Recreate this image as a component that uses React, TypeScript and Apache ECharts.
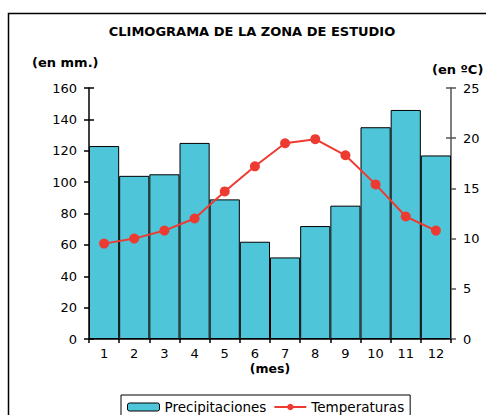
import React, { useEffect, useRef } from "react";
import * as echarts from "echarts";

const months = ["1", "2", "3", "4", "5", "6", "7", "8", "9", "10", "11", "12"];
const precipitaciones = [123, 104, 105, 125, 89, 62, 52, 72, 85, 135, 146, 117];
const temperaturas = [9.5, 10, 10.8, 12, 14.7, 17.2, 19.5, 19.9, 18.3, 15.4, 12.2, 10.8];

const FONT = "DejaVu Sans";

export default function App() {
  const ref = useRef<HTMLDivElement>(null);
  useEffect(() => {
    document.body.style.margin = "0";
    const chart = echarts.init(ref.current!, null, { renderer: "svg" });
    const leftBase = {
      type: "value" as const,
      min: 0,
      max: 160,
      interval: 20,
      position: "left" as const,
      splitLine: { show: false },
    };
    const rightBase = {
      type: "value" as const,
      min: 0,
      max: 25,
      interval: 5,
      position: "right" as const,
      splitLine: { show: false },
    };
    chart.setOption({
      animation: false,
      backgroundColor: "#fff",
      textStyle: { fontFamily: FONT },
      grid: { left: 89, right: 35, top: 88, bottom: 76, containLabel: false },
      graphic: [
        {
          type: "rect",
          shape: { x: 8.5, y: 13.5, width: 600, height: 600 },
          style: { fill: "none", stroke: "#000", lineWidth: 1.5 },
          z: 0,
        },
        {
          type: "text",
          x: 252,
          y: 31,
          style: {
            text: "CLIMOGRAMA DE LA ZONA DE ESTUDIO",
            font: `bold 13px "${FONT}"`,
            fill: "#000",
            textAlign: "center",
            textVerticalAlign: "middle",
          },
        },
        {
          type: "text",
          x: 32,
          y: 62,
          style: {
            text: "(en mm.)",
            font: `bold 13px "${FONT}"`,
            fill: "#000",
            textAlign: "left",
            textVerticalAlign: "middle",
          },
        },
        {
          type: "text",
          x: 432,
          y: 69,
          style: {
            text: "(en ºC)",
            font: `bold 13px "${FONT}"`,
            fill: "#000",
            textAlign: "left",
            textVerticalAlign: "middle",
          },
        },
        {
          type: "text",
          x: 270,
          y: 368,
          style: {
            text: "(mes)",
            font: `bold 12.5px "${FONT}"`,
            fill: "#000",
            textAlign: "center",
            textVerticalAlign: "middle",
          },
        },
      ],
      legend: {
        left: 121,
        top: 395,
        padding: [5, 6, 8, 6],
        borderColor: "#000",
        borderWidth: 1,
        itemGap: 7,
        itemWidth: 32,
        itemHeight: 8,
        textStyle: { fontFamily: FONT, fontSize: 13.5, color: "#000" },
        data: [
          { name: "Precipitaciones", itemStyle: { borderColor: "#000", borderWidth: 1 } },
          { name: "Temperaturas" },
        ],
      },
      xAxis: {
        type: "category",
        data: months,
        boundaryGap: true,
        axisLine: { lineStyle: { color: "#000", width: 1.5 } },
        axisTick: { show: true, length: 4, lineStyle: { color: "#000", width: 1.5 } },
        axisLabel: { fontFamily: FONT, fontSize: 13, color: "#000", margin: 8 },
      },
      yAxis: [
        {
          ...leftBase,
          axisLine: { show: true, lineStyle: { color: "#000", width: 1.5 } },
          axisTick: { show: true, inside: false, length: 5, lineStyle: { color: "#000", width: 1.5 } },
          axisLabel: { fontFamily: FONT, fontSize: 13, color: "#000", margin: 12 },
        },
        {
          ...rightBase,
          axisLine: { show: true, lineStyle: { color: "#555", width: 1.5 } },
          axisTick: { show: true, inside: false, length: 5, lineStyle: { color: "#555", width: 1.5 } },
          axisLabel: { fontFamily: FONT, fontSize: 13, color: "#000", margin: 12 },
        },
        {
          ...leftBase,
          axisLine: { show: false },
          axisTick: { show: true, inside: true, length: 5, lineStyle: { color: "#000", width: 1.5 } },
          axisLabel: { show: false },
        },
        {
          ...rightBase,
          axisLine: { show: false },
          axisTick: { show: true, inside: true, length: 5, lineStyle: { color: "#555", width: 1.5 } },
          axisLabel: { show: false },
        },
      ],
      series: [
        {
          name: "Precipitaciones",
          type: "bar",
          data: precipitaciones,
          yAxisIndex: 0,
          barCategoryGap: "0%",
          itemStyle: { color: "#4EC5D8", borderColor: "#000", borderWidth: 1 },
          z: 1,
        },
        {
          name: "Temperaturas",
          type: "line",
          data: temperaturas,
          yAxisIndex: 1,
          symbol: "circle",
          symbolSize: 10,
          itemStyle: { color: "#EE3B32" },
          lineStyle: { color: "#EE3B32", width: 2 },
          z: 3,
        },
      ],
    });
    return () => chart.dispose();
  }, []);
  return <div ref={ref} style={{ width: 486, height: 415 }} />;
}
